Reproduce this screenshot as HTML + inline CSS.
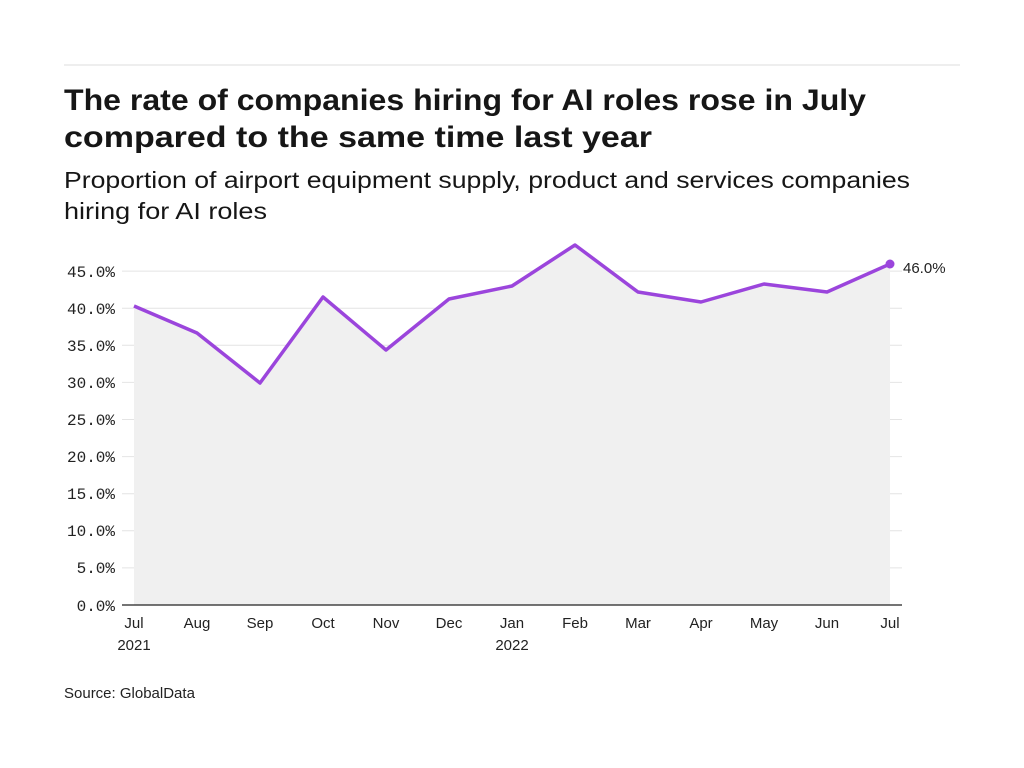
<!DOCTYPE html>
<html><head><meta charset="utf-8"><style>
body{margin:0;background:#fff;}
svg{display:block}
</style></head><body>
<svg width="1024" height="768" xmlns="http://www.w3.org/2000/svg">
<rect width="1024" height="768" fill="#fff"/>
<line x1="64" y1="65" x2="960" y2="65" stroke="#ddd" stroke-width="1"/>
<text x="64" y="110" font-family="Liberation Sans, sans-serif" font-size="30" font-weight="bold" fill="#161616" textLength="802" lengthAdjust="spacingAndGlyphs">The rate of companies hiring for AI roles rose in July</text>
<text x="64" y="147" font-family="Liberation Sans, sans-serif" font-size="30" font-weight="bold" fill="#161616" textLength="588" lengthAdjust="spacingAndGlyphs">compared to the same time last year</text>
<text x="64" y="188" font-family="Liberation Sans, sans-serif" font-size="23" fill="#161616" textLength="846" lengthAdjust="spacingAndGlyphs">Proportion of airport equipment supply, product and services companies</text>
<text x="64" y="219" font-family="Liberation Sans, sans-serif" font-size="23" fill="#161616" textLength="203" lengthAdjust="spacingAndGlyphs">hiring for AI roles</text>
<g stroke="#e4e4e4" stroke-width="1">
<line x1="122" y1="271.1" x2="902" y2="271.1"/>
<line x1="122" y1="308.2" x2="902" y2="308.2"/>
<line x1="122" y1="345.3" x2="902" y2="345.3"/>
<line x1="122" y1="382.4" x2="902" y2="382.4"/>
<line x1="122" y1="419.5" x2="902" y2="419.5"/>
<line x1="122" y1="456.6" x2="902" y2="456.6"/>
<line x1="122" y1="493.7" x2="902" y2="493.7"/>
<line x1="122" y1="530.8" x2="902" y2="530.8"/>
<line x1="122" y1="567.9" x2="902" y2="567.9"/>
</g>
<g font-family="Liberation Mono, monospace" font-size="16" fill="#222" text-anchor="end">
<text x="115" y="277">45.0%</text>
<text x="115" y="314">40.0%</text>
<text x="115" y="351">35.0%</text>
<text x="115" y="388">30.0%</text>
<text x="115" y="425">25.0%</text>
<text x="115" y="462">20.0%</text>
<text x="115" y="499">15.0%</text>
<text x="115" y="536">10.0%</text>
<text x="115" y="573">5.0%</text>
<text x="115" y="611">0.0%</text>
</g>
<polygon fill="#f0f0f0" points="134,605 134,306 197,333 260,383 323,297 386,350 449,299 512,286 575,245 638,292 701,302 764,284 827,292 890,264 890,605"/>
<line x1="122" y1="605" x2="902" y2="605" stroke="#222" stroke-width="1.3"/>
<polyline fill="none" stroke="#9b45dc" stroke-width="3.5" stroke-linejoin="round" points="134,306 197,333 260,383 323,297 386,350 449,299 512,286 575,245 638,292 701,302 764,284 827,292 890,264"/>
<circle cx="890" cy="264" r="4.5" fill="#9b45dc"/>
<text x="903" y="273" font-family="Liberation Sans, sans-serif" font-size="15" fill="#222">46.0%</text>
<g font-family="Liberation Sans, sans-serif" font-size="15" fill="#222" text-anchor="middle">
<text x="134" y="628">Jul</text><text x="134" y="650">2021</text>
<text x="197" y="628">Aug</text>
<text x="260" y="628">Sep</text>
<text x="323" y="628">Oct</text>
<text x="386" y="628">Nov</text>
<text x="449" y="628">Dec</text>
<text x="512" y="628">Jan</text><text x="512" y="650">2022</text>
<text x="575" y="628">Feb</text>
<text x="638" y="628">Mar</text>
<text x="701" y="628">Apr</text>
<text x="764" y="628">May</text>
<text x="827" y="628">Jun</text>
<text x="890" y="628">Jul</text>
</g>
<text x="64" y="698" font-family="Liberation Sans, sans-serif" font-size="15" fill="#222">Source: GlobalData</text>
</svg>
</body></html>
